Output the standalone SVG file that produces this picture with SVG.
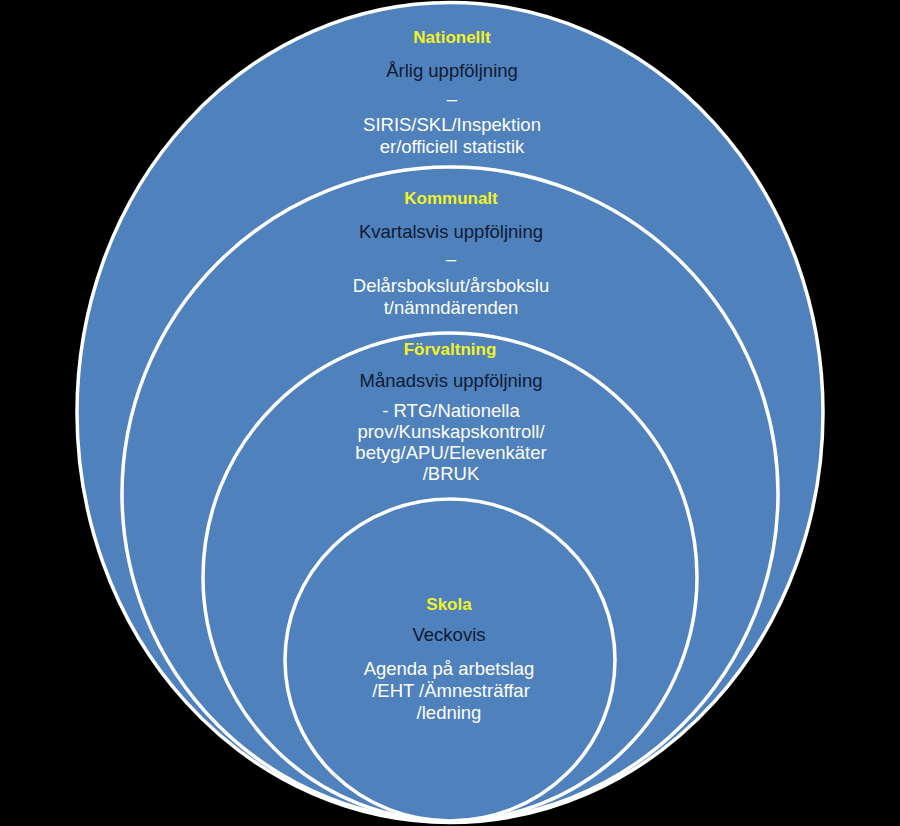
<svg xmlns="http://www.w3.org/2000/svg" width="900" height="826" viewBox="0 0 900 826">
<style>
.ring{fill:#4F81BD;stroke:#FFFFFF;stroke-width:3.5}
text{font-family:"Liberation Sans",Arial,sans-serif;text-anchor:middle}
.h{font-weight:bold;font-size:17px;fill:#F2F226}
.d{font-size:18.5px;fill:#0E1A33}
.w{font-size:18.5px;fill:#FFFFFF}
</style>
<rect x="0" y="0" width="900" height="826" fill="#000000"/>
<g id="nationellt">
<ellipse class="ring" cx="450" cy="412.5" rx="373" ry="410"/>
<text class="h" x="452" y="43">Nationellt</text>
<text class="d" x="452" y="77">Årlig uppföljning</text>
<text class="w" x="452" y="105">–</text>
<text class="w" x="452" y="131">SIRIS/SKL/Inspektion</text>
<text class="w" x="452" y="153">er/officiell statistik</text>
</g>
<g id="kommunalt">
<ellipse class="ring" cx="450" cy="494" rx="328" ry="327"/>
<text class="h" x="451" y="204">Kommunalt</text>
<text class="d" x="451" y="238">Kvartalsvis uppföljning</text>
<text class="w" x="451" y="265">–</text>
<text class="w" x="451" y="292">Delårsbokslut/årsbokslu</text>
<text class="w" x="451" y="314">t/nämndärenden</text>
</g>
<g id="forvaltning">
<ellipse class="ring" cx="450" cy="577" rx="247" ry="244"/>
<text class="h" x="450" y="355">Förvaltning</text>
<text class="d" x="451" y="387">Månadsvis uppföljning</text>
<text class="w" x="451" y="417">- RTG/Nationella</text>
<text class="w" x="451" y="438">prov/Kunskapskontroll/</text>
<text class="w" x="451" y="459">betyg/APU/Elevenkäter</text>
<text class="w" x="451" y="480">/BRUK</text>
</g>
<g id="skola">
<ellipse class="ring" cx="450" cy="660" rx="165" ry="161"/>
<text class="h" x="449" y="610">Skola</text>
<text class="d" x="449" y="641">Veckovis</text>
<text class="w" x="449" y="675">Agenda på arbetslag</text>
<text class="w" x="451" y="697">/EHT /Ämnesträffar</text>
<text class="w" x="449" y="719">/ledning</text>
</g>
<g id="connectors"/>
</svg>
